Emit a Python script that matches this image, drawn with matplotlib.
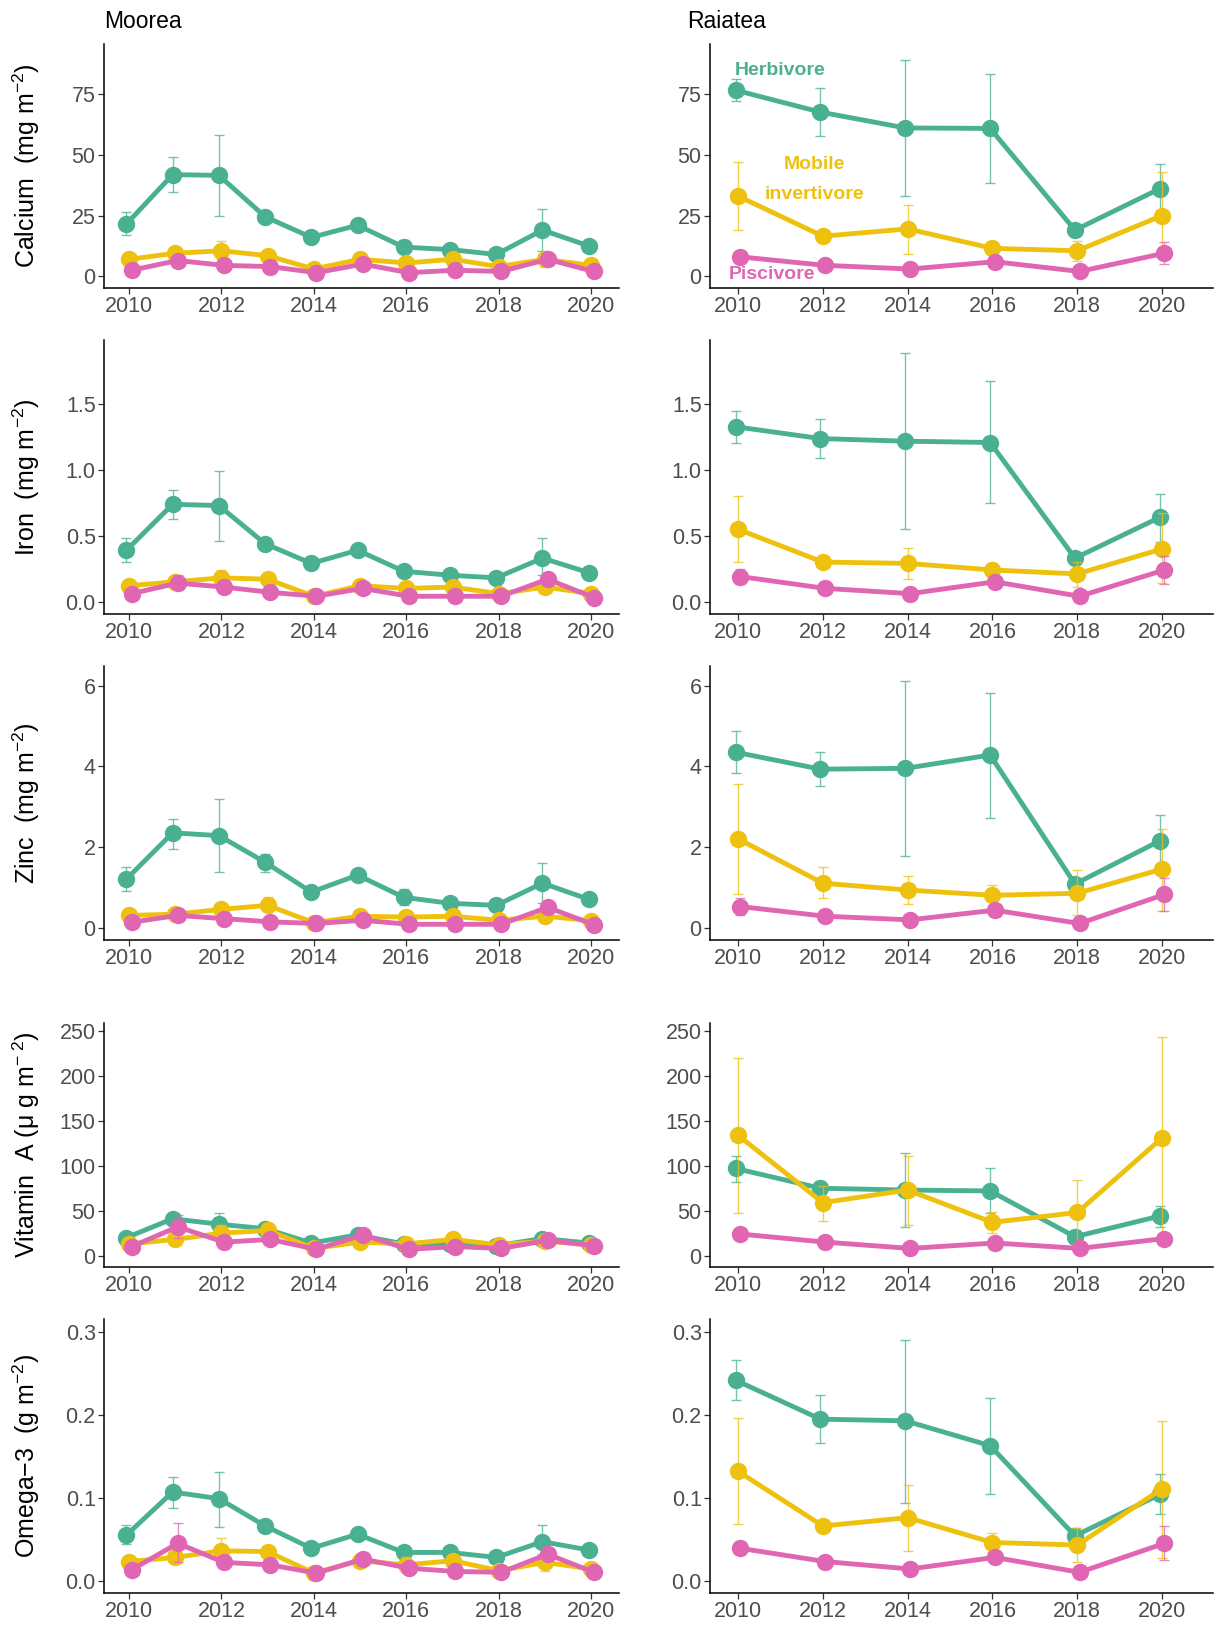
import matplotlib
matplotlib.use("Agg")
import matplotlib.pyplot as plt

plt.rcParams["font.family"] = ["Liberation Sans", "DejaVu Sans"]
plt.rcParams["mathtext.fontset"] = "custom"
plt.rcParams["mathtext.rm"] = "Liberation Sans"
plt.rcParams["mathtext.it"] = "Liberation Sans:italic"

YEARS_M = [2010, 2011, 2012, 2013, 2014, 2015, 2016, 2017, 2018, 2019, 2020]
YEARS_R = [2010, 2012, 2014, 2016, 2018, 2020]
GROUPS = ["Herbivore", "Mobile invertivore", "Piscivore"]
COLORS = ["#4AB092", "#EFC10F", "#E065B2"]

# ---- Calcium ----
CA_M_HERB = [21.5, 41.8, 41.5, 24.5, 16.0, 21.0, 12.0, 11.0, 9.0, 19.0, 12.5]
CA_M_HERB_LO = [17, 34.5, 25, 22, 15, 20, 10, 10, 8.5, 10.5, 11.5]
CA_M_HERB_HI = [26.5, 49, 58, 27, 17, 22, 15, 12, 10, 27.5, 13.5]
CA_M_INV = [7, 9.5, 10.5, 8.5, 3, 7, 5.5, 7, 4, 7, 4.5]
CA_M_INV_LO = [6, 7.5, 7, 7.5, 1.5, 5.5, 3, 5.5, 3, 4, 2]
CA_M_INV_HI = [8, 11, 14.5, 9.5, 4, 8, 6.5, 8, 5, 10, 5.5]
CA_M_PIS = [2.5, 6.5, 4.5, 4, 1.5, 5, 1.5, 2.5, 2, 7, 2]
CA_M_PIS_LO = [2, 5, 3.5, 3, 1, 3.5, 1, 2, 1.5, 5, 1.5]
CA_M_PIS_HI = [3, 8, 5.5, 5, 2, 6.5, 2, 3, 2.5, 9, 2.5]

CA_R_HERB = [76.5, 67.5, 61, 60.8, 19, 36]
CA_R_HERB_LO = [72, 57.5, 33, 38.5, 17.5, 26.5]
CA_R_HERB_HI = [81, 77.5, 89, 83, 20.5, 46]
CA_R_INV = [33, 16.5, 19.5, 11.5, 10.5, 25]
CA_R_INV_LO = [19, 15.5, 9, 9.5, 6.5, 7.5]
CA_R_INV_HI = [47, 17.5, 29.5, 13.5, 14.5, 43]
CA_R_PIS = [8, 4.5, 3, 6, 2, 9.5]
CA_R_PIS_LO = [7, 4, 2.5, 5, 1.5, 5]
CA_R_PIS_HI = [9, 5, 3.5, 7, 2.5, 14]

# ---- Iron ----
FE_M_HERB = [0.39, 0.74, 0.73, 0.44, 0.29, 0.39, 0.23, 0.20, 0.18, 0.33, 0.22]
FE_M_HERB_LO = [0.30, 0.63, 0.46, 0.40, 0.27, 0.37, 0.20, 0.19, 0.17, 0.20, 0.21]
FE_M_HERB_HI = [0.48, 0.85, 0.99, 0.48, 0.31, 0.41, 0.26, 0.21, 0.19, 0.48, 0.23]
FE_M_INV = [0.12, 0.15, 0.18, 0.17, 0.04, 0.12, 0.10, 0.11, 0.06, 0.11, 0.06]
FE_M_INV_LO = [0.11, 0.13, 0.13, 0.16, 0.03, 0.09, 0.07, 0.10, 0.04, 0.08, 0.04]
FE_M_INV_HI = [0.13, 0.17, 0.24, 0.18, 0.05, 0.14, 0.12, 0.12, 0.07, 0.14, 0.08]
FE_M_PIS = [0.06, 0.14, 0.11, 0.07, 0.04, 0.10, 0.04, 0.04, 0.04, 0.17, 0.03]
FE_M_PIS_LO = [0.05, 0.09, 0.08, 0.06, 0.03, 0.07, 0.03, 0.03, 0.03, 0.14, 0.02]
FE_M_PIS_HI = [0.07, 0.20, 0.14, 0.08, 0.05, 0.13, 0.05, 0.05, 0.05, 0.20, 0.04]

FE_R_HERB = [1.33, 1.24, 1.22, 1.21, 0.33, 0.64]
FE_R_HERB_LO = [1.21, 1.09, 0.55, 0.75, 0.30, 0.45]
FE_R_HERB_HI = [1.45, 1.39, 1.89, 1.68, 0.36, 0.82]
FE_R_INV = [0.55, 0.30, 0.29, 0.24, 0.21, 0.40]
FE_R_INV_LO = [0.30, 0.27, 0.17, 0.18, 0.11, 0.14]
FE_R_INV_HI = [0.80, 0.33, 0.41, 0.29, 0.30, 0.67]
FE_R_PIS = [0.19, 0.10, 0.06, 0.15, 0.04, 0.24]
FE_R_PIS_LO = [0.13, 0.09, 0.05, 0.13, 0.03, 0.13]
FE_R_PIS_HI = [0.25, 0.11, 0.07, 0.17, 0.05, 0.35]

# ---- Zinc ----
ZN_M_HERB = [1.2, 2.35, 2.28, 1.62, 0.88, 1.3, 0.75, 0.6, 0.55, 1.1, 0.7]
ZN_M_HERB_LO = [0.9, 1.95, 1.38, 1.38, 0.82, 1.22, 0.55, 0.55, 0.5, 0.6, 0.65]
ZN_M_HERB_HI = [1.5, 2.7, 3.18, 1.83, 0.94, 1.38, 0.95, 0.65, 0.6, 1.6, 0.75]
ZN_M_INV = [0.3, 0.33, 0.45, 0.55, 0.12, 0.28, 0.26, 0.28, 0.18, 0.28, 0.17]
ZN_M_INV_LO = [0.27, 0.28, 0.35, 0.4, 0.08, 0.22, 0.18, 0.24, 0.14, 0.2, 0.1]
ZN_M_INV_HI = [0.33, 0.38, 0.58, 0.75, 0.16, 0.34, 0.34, 0.32, 0.22, 0.36, 0.24]
ZN_M_PIS = [0.13, 0.3, 0.22, 0.14, 0.1, 0.18, 0.08, 0.08, 0.08, 0.5, 0.07]
ZN_M_PIS_LO = [0.1, 0.2, 0.15, 0.12, 0.08, 0.12, 0.06, 0.06, 0.06, 0.4, 0.05]
ZN_M_PIS_HI = [0.16, 0.4, 0.29, 0.16, 0.12, 0.24, 0.1, 0.1, 0.1, 0.6, 0.09]

ZN_R_HERB = [4.35, 3.93, 3.95, 4.28, 1.08, 2.15]
ZN_R_HERB_LO = [3.83, 3.52, 1.77, 2.72, 0.95, 1.55]
ZN_R_HERB_HI = [4.87, 4.35, 6.13, 5.83, 1.2, 2.78]
ZN_R_INV = [2.2, 1.1, 0.93, 0.8, 0.85, 1.45]
ZN_R_INV_LO = [0.83, 0.72, 0.58, 0.56, 0.3, 0.42]
ZN_R_INV_HI = [3.57, 1.5, 1.28, 1.05, 1.42, 2.45]
ZN_R_PIS = [0.52, 0.28, 0.19, 0.43, 0.1, 0.82]
ZN_R_PIS_LO = [0.32, 0.24, 0.16, 0.38, 0.08, 0.42]
ZN_R_PIS_HI = [0.72, 0.32, 0.22, 0.48, 0.12, 1.22]

# ---- Vitamin A ----
VA_M_HERB = [20, 41, 35, 30, 14, 23, 13, 13, 11, 19, 14]
VA_M_HERB_LO = [17, 36, 25, 27, 12, 21, 11, 11, 10, 16, 12]
VA_M_HERB_HI = [23, 46, 47, 33, 16, 25, 15, 15, 12, 22, 16]
VA_M_INV = [13, 18, 25, 28, 8, 15, 13, 18, 12, 16, 12]
VA_M_INV_LO = [10, 15, 17, 20, 5, 12, 9, 15, 9, 10, 8]
VA_M_INV_HI = [16, 21, 34, 36, 11, 18, 17, 21, 15, 22, 16]
VA_M_PIS = [10, 32, 15, 18, 7, 23, 7, 10, 8, 17, 11]
VA_M_PIS_LO = [8, 20, 12, 15, 5, 19, 5, 8, 6, 13, 8]
VA_M_PIS_HI = [12, 45, 18, 21, 9, 27, 9, 12, 10, 21, 14]

VA_R_HERB = [97, 75, 73, 72, 21, 44]
VA_R_HERB_LO = [82, 66, 32, 47, 14, 32]
VA_R_HERB_HI = [111, 83, 114, 97, 28, 55]
VA_R_INV = [134, 59, 73, 37, 48, 131]
VA_R_INV_LO = [47, 39, 34, 25, 13, 19]
VA_R_INV_HI = [220, 78, 111, 49, 84, 243]
VA_R_PIS = [24, 15, 8, 14, 8, 19]
VA_R_PIS_LO = [22, 13, 7, 12, 7, 15]
VA_R_PIS_HI = [26, 17, 9, 16, 9, 23]

# ---- Omega-3 ----
OM_M_HERB = [0.055, 0.107, 0.099, 0.066, 0.039, 0.056, 0.034, 0.034, 0.028, 0.047, 0.037]
OM_M_HERB_LO = [0.044, 0.088, 0.065, 0.062, 0.036, 0.053, 0.03, 0.031, 0.026, 0.032, 0.034]
OM_M_HERB_HI = [0.067, 0.125, 0.131, 0.07, 0.042, 0.059, 0.038, 0.037, 0.03, 0.067, 0.04]
OM_M_INV = [0.023, 0.028, 0.036, 0.035, 0.009, 0.024, 0.019, 0.024, 0.012, 0.022, 0.014]
OM_M_INV_LO = [0.02, 0.024, 0.022, 0.032, 0.006, 0.02, 0.01, 0.02, 0.009, 0.012, 0.01]
OM_M_INV_HI = [0.026, 0.032, 0.052, 0.038, 0.012, 0.028, 0.028, 0.028, 0.015, 0.032, 0.018]
OM_M_PIS = [0.013, 0.045, 0.022, 0.019, 0.009, 0.026, 0.015, 0.011, 0.01, 0.032, 0.01]
OM_M_PIS_LO = [0.011, 0.022, 0.018, 0.017, 0.007, 0.022, 0.012, 0.009, 0.008, 0.028, 0.008]
OM_M_PIS_HI = [0.015, 0.069, 0.026, 0.021, 0.011, 0.03, 0.018, 0.013, 0.012, 0.036, 0.012]

OM_R_HERB = [0.242, 0.195, 0.193, 0.163, 0.054, 0.104]
OM_R_HERB_LO = [0.218, 0.166, 0.094, 0.105, 0.045, 0.08]
OM_R_HERB_HI = [0.266, 0.224, 0.291, 0.22, 0.064, 0.129]
OM_R_INV = [0.132, 0.066, 0.076, 0.046, 0.043, 0.111]
OM_R_INV_LO = [0.068, 0.06, 0.036, 0.035, 0.022, 0.027]
OM_R_INV_HI = [0.197, 0.072, 0.116, 0.057, 0.064, 0.193]
OM_R_PIS = [0.039, 0.023, 0.014, 0.028, 0.01, 0.045]
OM_R_PIS_LO = [0.033, 0.021, 0.012, 0.022, 0.008, 0.025]
OM_R_PIS_HI = [0.045, 0.025, 0.016, 0.034, 0.012, 0.066]

YLABELS = [
    r"Calcium  (mg m$^{-2}$)",
    r"Iron  (mg m$^{-2}$)",
    r"Zinc  (mg m$^{-2}$)",
    "Vitamin  A (\u03bc g m$^{-\\ 2}$)",
    r"Omega$-$3  (g m$^{-2}$)",
]
YTICKS = [
    ([0, 25, 50, 75], ["0", "25", "50", "75"]),
    ([0, 0.5, 1.0, 1.5], ["0.0", "0.5", "1.0", "1.5"]),
    ([0, 2, 4, 6], ["0", "2", "4", "6"]),
    ([0, 50, 100, 150, 200, 250], ["0", "50", "100", "150", "200", "250"]),
    ([0, 0.1, 0.2, 0.3], ["0.0", "0.1", "0.2", "0.3"]),
]
YLIMS = [(-4.8, 95.5), (-0.095, 1.99), (-0.31, 6.49), (-12.7, 259), (-0.015, 0.316)]

moorea = [
    [(CA_M_HERB, CA_M_HERB_LO, CA_M_HERB_HI), (CA_M_INV, CA_M_INV_LO, CA_M_INV_HI), (CA_M_PIS, CA_M_PIS_LO, CA_M_PIS_HI)],
    [(FE_M_HERB, FE_M_HERB_LO, FE_M_HERB_HI), (FE_M_INV, FE_M_INV_LO, FE_M_INV_HI), (FE_M_PIS, FE_M_PIS_LO, FE_M_PIS_HI)],
    [(ZN_M_HERB, ZN_M_HERB_LO, ZN_M_HERB_HI), (ZN_M_INV, ZN_M_INV_LO, ZN_M_INV_HI), (ZN_M_PIS, ZN_M_PIS_LO, ZN_M_PIS_HI)],
    [(VA_M_HERB, VA_M_HERB_LO, VA_M_HERB_HI), (VA_M_INV, VA_M_INV_LO, VA_M_INV_HI), (VA_M_PIS, VA_M_PIS_LO, VA_M_PIS_HI)],
    [(OM_M_HERB, OM_M_HERB_LO, OM_M_HERB_HI), (OM_M_INV, OM_M_INV_LO, OM_M_INV_HI), (OM_M_PIS, OM_M_PIS_LO, OM_M_PIS_HI)],
]
raiatea = [
    [(CA_R_HERB, CA_R_HERB_LO, CA_R_HERB_HI), (CA_R_INV, CA_R_INV_LO, CA_R_INV_HI), (CA_R_PIS, CA_R_PIS_LO, CA_R_PIS_HI)],
    [(FE_R_HERB, FE_R_HERB_LO, FE_R_HERB_HI), (FE_R_INV, FE_R_INV_LO, FE_R_INV_HI), (FE_R_PIS, FE_R_PIS_LO, FE_R_PIS_HI)],
    [(ZN_R_HERB, ZN_R_HERB_LO, ZN_R_HERB_HI), (ZN_R_INV, ZN_R_INV_LO, ZN_R_INV_HI), (ZN_R_PIS, ZN_R_PIS_LO, ZN_R_PIS_HI)],
    [(VA_R_HERB, VA_R_HERB_LO, VA_R_HERB_HI), (VA_R_INV, VA_R_INV_LO, VA_R_INV_HI), (VA_R_PIS, VA_R_PIS_LO, VA_R_PIS_HI)],
    [(OM_R_HERB, OM_R_HERB_LO, OM_R_HERB_HI), (OM_R_INV, OM_R_INV_LO, OM_R_INV_HI), (OM_R_PIS, OM_R_PIS_LO, OM_R_PIS_HI)],
]

W, H = 1215, 1625
ROWS_PX = [(44, 288), (340, 614), (666, 940), (1023, 1267), (1319, 1593)]
COLS_PX = [(104, 619), (710, 1213)]
DODGE = [-0.055, 0.0, 0.055]
YLABEL_X_PX = 42  # right edge of the rotated y label, in figure pixels


def draw_panel(ax, years, series, ylim, yticks, xlim, xticks):
    for k, (mean, lo, hi) in enumerate(series):
        xs = [y + DODGE[k] for y in years]
        yerr = [[m - l for m, l in zip(mean, lo)], [h - m for m, h in zip(mean, hi)]]
        ax.errorbar(xs, mean, yerr=yerr, fmt="none", ecolor=COLORS[k],
                    elinewidth=1.0, capsize=3.5, capthick=1.0, alpha=0.75, zorder=2 + k)
        ax.plot(xs, mean, color=COLORS[k], lw=3.5, marker="o", ms=11.5,
                solid_capstyle="round", zorder=3 + k)
    ax.set_xlim(*xlim)
    ax.set_ylim(*ylim)
    ax.set_xticks(xticks)
    ax.set_xticklabels([str(t) for t in xticks])
    ax.set_yticks(yticks[0])
    ax.set_yticklabels(yticks[1])
    for s in ["top", "right"]:
        ax.spines[s].set_visible(False)
    for s in ["left", "bottom"]:
        ax.spines[s].set_linewidth(1.1)
    ax.tick_params(axis="both", labelsize=15.5, colors="#333333", labelcolor="#4D4D4D",
                   length=4, width=0.9, pad=2)


fig = plt.figure(figsize=(W / 100, H / 100), dpi=100)
axes = []
for r, (t, b) in enumerate(ROWS_PX):
    row_axes = []
    for c, (l, rgt) in enumerate(COLS_PX):
        ax = fig.add_axes([l / W, 1 - b / H, (rgt - l) / W, (b - t) / H])
        if c == 0:
            draw_panel(ax, YEARS_M, moorea[r], YLIMS[r], YTICKS[r], (2009.46, 2020.6),
                       [2010, 2012, 2014, 2016, 2018, 2020])
            ax.set_ylabel(YLABELS[r], fontsize=18)
            ax.yaxis.set_label_coords((YLABEL_X_PX - l) / (rgt - l), 0.5)
        else:
            draw_panel(ax, YEARS_R, raiatea[r], YLIMS[r], YTICKS[r], (2009.34, 2021.2),
                       [2010, 2012, 2014, 2016, 2018, 2020])
        row_axes.append(ax)
    axes.append(row_axes)

fig.text(104 / W, 1 - 21 / H, "Moorea", fontsize=16.5, va="center", ha="left")
fig.text(687 / W, 1 - 21 / H, "Raiatea", fontsize=16.5, va="center", ha="left")

ax_ca = axes[0][1]
ax_ca.text(2011.0, 84.5, "Herbivore", color=COLORS[0], fontsize=14, fontweight="bold",
           ha="center", va="center")
ax_ca.text(2011.8, 46, "Mobile", color=COLORS[1], fontsize=14, fontweight="bold",
           ha="center", va="center")
ax_ca.text(2011.8, 33.6, "invertivore", color=COLORS[1], fontsize=14, fontweight="bold",
           ha="center", va="center")
ax_ca.text(2010.8, 0.8, "Piscivore", color=COLORS[2], fontsize=14, fontweight="bold",
           ha="center", va="center", zorder=10)

fig.savefig("out.png", dpi=100)
